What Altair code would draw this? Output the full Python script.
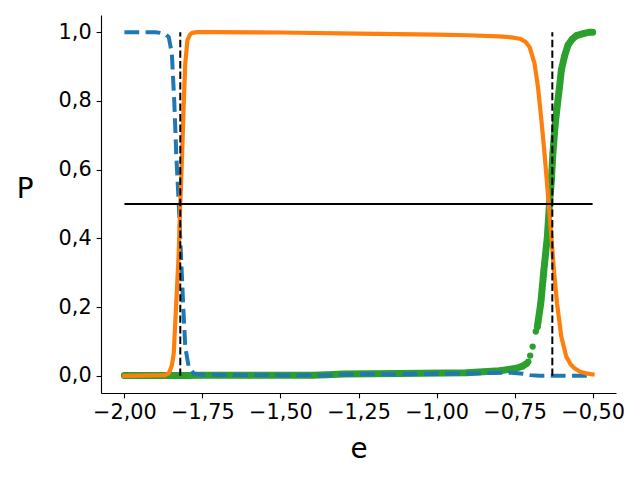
import altair as alt
import pandas as pd

# ---- data ----
blue_x = [-2.0, -1.90, -1.885, -1.870, -1.858, -1.848, -1.840, -1.834, -1.826, -1.819,
          -1.812, -1.805, -1.794, -1.778, -1.75, -1.5, -1.35, -1.30, -1.1, -0.9, -0.83,
          -0.76, -0.723, -0.70, -0.67, -0.64, -0.6, -0.55, -0.5]
blue_y = [1.0, 1.0, 0.998, 0.995, 0.986, 0.938, 0.793, 0.647, 0.502, 0.356,
          0.211, 0.084, 0.026, 0.007, 0.003, 0.002, 0.002, 0.004, 0.005, 0.007, 0.008,
          0.009, 0.006, 0.002, 0.0005, 0.0, 0.0, 0.0, 0.0]

orange_x = [-2.0, -1.87, -1.858, -1.848, -1.842, -1.834, -1.826, -1.821, -1.815, -1.810,
            -1.805, -1.798, -1.790, -1.783, -1.767, -1.70, -1.5, -1.25, -1.0, -0.9, -0.8,
            -0.76, -0.733, -0.715, -0.702, -0.686, -0.675, -0.664, -0.654, -0.645, -0.640,
            -0.632, -0.624, -0.614, -0.600, -0.584, -0.570, -0.558, -0.540, -0.520, -0.5]
orange_y = [0.0, 0.002, 0.007, 0.03, 0.065, 0.211, 0.356, 0.502, 0.647, 0.793,
            0.909, 0.977, 0.993, 0.998, 1.0, 1.0, 0.999, 0.996, 0.993, 0.991, 0.988,
            0.985, 0.981, 0.972, 0.957, 0.909, 0.841, 0.744, 0.647, 0.550, 0.492,
            0.404, 0.308, 0.211, 0.113, 0.055, 0.033, 0.022, 0.012, 0.007, 0.004]

# green: lower run, isolated dots, upper run
green_a_x = [-2.0, -1.9, -1.8, -1.757, -1.6, -1.4, -1.35, -1.30, -1.117, -0.903, -0.797,
             -0.744, -0.725, -0.712]
green_a_y = [0.001, 0.001, 0.001, 0.002, 0.002, 0.002, 0.003, 0.005, 0.007, 0.009, 0.015,
             0.022, 0.028, 0.035]
green_dots_x = [-0.706, -0.700, -0.692, -0.682]
green_dots_y = [0.041, 0.059, 0.085, 0.129]
green_b_x = [-0.677, -0.666, -0.656, -0.645, -0.638, -0.632, -0.627, -0.620, -0.614, -0.606,
             -0.600, -0.590, -0.579, -0.565, -0.552, -0.530, -0.510, -0.5]
green_b_y = [0.143, 0.211, 0.308, 0.404, 0.502, 0.569, 0.650, 0.730, 0.780, 0.841,
             0.890, 0.930, 0.962, 0.980, 0.990, 0.996, 1.0, 1.0]

vlines_x = [-1.821, -0.629]
hline_y = 0.5
hline_x = [-2.0, -0.5]

x_ticks = [-2.0, -1.75, -1.5, -1.25, -1.0, -0.75, -0.5]
y_ticks = [0.0, 0.2, 0.4, 0.6, 0.8, 1.0]

# ---- tables ----
blue = pd.DataFrame({"e": blue_x, "P": blue_y})
orange = pd.DataFrame({"e": orange_x, "P": orange_y})
green_line = pd.DataFrame({
    "e": green_a_x + green_b_x,
    "P": green_a_y + green_b_y,
    "seg": ["a"] * len(green_a_x) + ["b"] * len(green_b_x),
})
green_pts = pd.DataFrame({
    "e": green_a_x + green_dots_x + green_b_x,
    "P": green_a_y + green_dots_y + green_b_y,
})
vl = pd.DataFrame({"e": vlines_x, "y0": [0.0] * 2, "y1": [1.0] * 2})
hl = pd.DataFrame({"e": [hline_x[0]], "e2": [hline_x[1]], "P": [hline_y]})

xscale = alt.Scale(domain=[-2.075, -0.425], nice=False, zero=False)
yscale = alt.Scale(domain=[-0.05, 1.05], nice=False, zero=False)

font = "DejaVu Sans"
xaxis = alt.Axis(
    values=x_ticks, title="e", grid=False,
    labelExpr="replace(replace(format(datum.value, '.2f'), '.', ','), '-', '\u2212')",
    labelFont=font, labelFontSize=20.8, labelColor="black", labelPadding=4.9,
    tickSize=4.9, tickColor="black", tickWidth=1.1,
    domainColor="black", domainWidth=1.1,
    titleFont=font, titleFontSize=27.8, titleFontWeight="normal", titleColor="black",
    titleY=64, titleBaseline="alphabetic", labelFlush=False,
)
yaxis = alt.Axis(
    values=y_ticks, title="P", grid=False,
    labelExpr="replace(format(datum.value, '.1f'), '.', ',')",
    labelFont=font, labelFontSize=20.8, labelColor="black", labelPadding=4.9,
    tickSize=4.9, tickColor="black", tickWidth=1.1,
    domainColor="black", domainWidth=1.1,
    titleFont=font, titleFontSize=27.8, titleFontWeight="normal", titleColor="black",
    titleAngle=0, titleX=-76.5, titleY=182.7, titleAlign="center",
    titleBaseline="alphabetic", labelFlush=False,
)

green_l = alt.Chart(green_line).mark_line(
    color="#2ca02c", strokeWidth=7, strokeCap="round", strokeJoin="round"
).encode(
    x=alt.X("e:Q", scale=xscale, axis=xaxis),
    y=alt.Y("P:Q", scale=yscale, axis=yaxis),
    detail="seg:N",
)
green_p = alt.Chart(green_pts).mark_circle(color="#2ca02c", opacity=1, size=40).encode(
    x=alt.X("e:Q", scale=xscale), y=alt.Y("P:Q", scale=yscale)
)
blue_l = alt.Chart(blue).mark_line(
    color="#1f77b4", strokeWidth=4, strokeDash=[14.8, 6.4]
).encode(x=alt.X("e:Q", scale=xscale), y=alt.Y("P:Q", scale=yscale))
orange_l = alt.Chart(orange).mark_line(
    color="#ff7f0e", strokeWidth=4.2, strokeCap="square", strokeJoin="round"
).encode(x=alt.X("e:Q", scale=xscale), y=alt.Y("P:Q", scale=yscale))
vrules = alt.Chart(vl).mark_rule(color="black", strokeWidth=2, strokeDash=[7.4, 3.2]).encode(
    x=alt.X("e:Q", scale=xscale), y=alt.Y("y0:Q", scale=yscale), y2="y1:Q"
)
hrule = alt.Chart(hl).mark_rule(color="black", strokeWidth=2).encode(
    x=alt.X("e:Q", scale=xscale), x2="e2:Q", y=alt.Y("P:Q", scale=yscale)
)

chart = alt.layer(green_l, green_p, blue_l, orange_l, vrules, hrule).properties(
    width=515, height=378,
    padding={"left": 93, "top": 7, "right": 16, "bottom": 80},
    autosize=alt.AutoSizeParams(type="none"),
    background="white",
).configure_view(stroke=None)

chart.save("out.html", embed_options={"renderer": "svg", "actions": False})
